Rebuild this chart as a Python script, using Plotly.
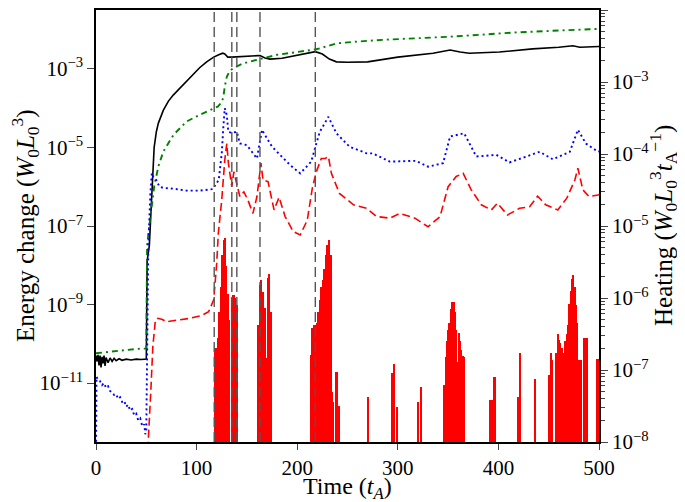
import plotly.graph_objects as go

# ---------------- data (log10 values) ----------------
black_t = [0, 1, 2, 3, 4, 5, 6, 7, 8, 9, 10, 12, 14, 16, 18, 20, 23, 26, 30, 35, 40, 45, 50,
           50.8, 53, 55.5, 57.8, 60, 62, 67, 72, 77, 85, 90, 97, 103, 110, 117, 122, 126, 128,
           131, 135, 145, 155, 163, 168, 173, 185, 200, 210, 218, 225, 232, 239, 250, 270, 300,
           335, 352, 362, 371, 401, 434, 460, 474, 481, 500]
black_v = [-10.30, -10.45, -10.28, -10.55, -10.30, -10.60, -10.33, -10.50, -10.30, -10.56, -10.35,
           -10.48, -10.36, -10.45, -10.37, -10.43, -10.38, -10.42, -10.39, -10.41, -10.39, -10.40, -10.39,
           -7.9, -7.5, -6.0, -5.0, -4.6, -4.38, -4.05, -3.82, -3.66, -3.45, -3.32, -3.12, -2.97, -2.82,
           -2.70, -2.64, -2.60, -2.62, -2.70, -2.70, -2.69, -2.68, -2.66, -2.72, -2.75, -2.73, -2.65,
           -2.61, -2.56, -2.62, -2.75, -2.82, -2.83, -2.82, -2.70, -2.60, -2.52, -2.57, -2.60, -2.57,
           -2.49, -2.45, -2.41, -2.45, -2.43]

green_t = [0, 10, 20, 30, 40, 50, 50.8, 53, 55.5, 57.8, 62, 67, 77, 90, 103, 110, 121, 124, 126.5,
           128, 130, 133, 136.5, 146, 160, 180, 200, 219, 230, 239, 262, 285, 352, 418, 490, 500]
green_v = [-10.24, -10.21, -10.18, -10.15, -10.13, -10.12, -7.5, -7.0, -6.5, -6.0, -5.48, -5.1, -4.68,
           -4.34, -4.17, -4.09, -3.96, -3.88, -3.74, -3.45, -3.2, -3.05, -2.98, -2.86, -2.77, -2.64,
           -2.57, -2.50, -2.42, -2.35, -2.30, -2.26, -2.18, -2.07, -1.99, -1.98]

blue_t = [0, 0.5, 2, 4, 6, 8, 10, 12, 14, 16, 18, 20, 22, 24, 26, 28, 30, 32, 34, 36, 38, 40, 42, 44,
          46, 48, 49, 50, 50.6, 52, 54, 55.5, 57, 60, 63, 67, 77, 90, 103, 116, 122, 125, 126.6, 128,
          130, 131.5, 135, 140, 143, 150, 160, 165, 170, 175, 183, 193, 203, 214, 219, 222.5, 231, 239,
          252, 269, 275, 292, 318, 330, 345, 352, 366, 378, 398, 411, 428, 441, 454, 471, 479, 487,
          499, 500]
blue_v = [-13.0, -10.84, -10.92, -10.95, -11.05, -11.0, -11.12, -11.08, -11.2, -11.24, -11.3, -11.28,
          -11.4, -11.36, -11.48, -11.45, -11.6, -11.55, -11.7, -11.66, -11.82, -11.78, -11.95, -11.9,
          -12.1, -12.05, -12.3, -12.2, -10.4, -7.5, -6.2, -5.65, -5.75, -5.83, -6.0, -6.03, -6.05,
          -6.1, -6.1, -6.06, -5.83, -5.15, -4.47, -4.0, -4.17, -4.6, -4.63, -4.6, -4.9, -4.94, -5.28,
          -4.55, -4.77, -4.98, -5.19, -5.45, -5.66, -5.36, -4.9, -4.6, -4.22, -4.64, -4.98, -5.15,
          -5.15, -5.36, -5.34, -5.49, -5.4, -4.72, -4.64, -5.23, -5.19, -5.38, -5.23, -5.11, -5.3,
          -5.11, -4.55, -4.9, -5.11, -5.1]

red_t = [51.5, 52.2, 54.5, 56.5, 59, 61.5, 66, 70, 80, 93.5, 105, 112, 117, 120, 121.6, 125, 128, 130,
         131.6, 135, 137, 140, 143, 147, 151, 156, 160, 164, 166, 171, 177, 182, 188, 196, 203, 210,
         215, 219, 224, 228, 231, 234, 242, 256, 269, 279, 292, 302, 317, 330, 342, 350, 358, 365,
         373, 383, 393, 399, 409, 421, 431, 439, 447, 459, 468, 476, 479, 484, 490, 499, 500]
red_v = [-13.0, -12.33, -11.2, -10.07, -9.4, -9.35, -9.38, -9.44, -9.4, -9.35, -9.28, -9.18, -8.88,
         -7.95, -7.18, -6.34, -5.32, -4.9, -5.4, -6.0, -5.62, -5.96, -6.25, -6.13, -6.34, -6.68, -6.25,
         -5.4, -5.83, -5.87, -6.59, -6.27, -6.76, -7.14, -7.23, -6.85, -6.04, -5.62, -5.28, -5.28,
         -5.23, -5.66, -6.17, -6.46, -6.55, -6.76, -6.8, -6.68, -6.8, -7.02, -6.76, -6.0, -5.74,
         -5.66, -6.08, -6.46, -6.59, -6.42, -6.72, -6.55, -6.51, -6.24, -6.46, -6.59, -6.29, -5.83,
         -5.53, -6.08, -6.25, -6.21, -6.2]

heat_t = [118.5, 120, 121.5, 123, 124.5, 126, 127.3, 128.5, 129.8, 131, 132,
          135.5, 137, 138.5, 140,
          161.3, 162.9, 164.5, 166.1, 167.7, 169.3, 170.9, 172.5, 174,
          213.8, 215.3, 216.8, 218.3, 219.8, 221.3, 222.8, 224.3, 225.8, 227.3, 228.8, 230.3, 231.8,
          233.3, 234.8, 236.2, 238.5, 240, 241.3,
          270.5, 294.4, 296.8, 299.5, 320, 323.7,
          346.5, 347.8, 349.1, 350.4, 351.7, 353, 354.3, 355.6, 356.9, 358.2, 359.5, 360.8, 362.1,
          363.4, 364.7, 366,
          391.5, 394, 396.3, 419.6, 421.9, 437,
          450.9, 452.2, 453.5, 457.8, 459.1, 460.4, 461.7, 463, 464.3, 465.6, 466.9, 468.2, 469.5,
          470.8, 472.1, 473.4, 474.7, 476, 477.3, 478.6, 479.9, 481.2, 482.5,
          485.9, 487.3, 488.7, 498, 499.3]
heat_v = [-6.70, -6.70, -6.55, -6.19, -5.85, -5.40, -5.20, -5.17, -5.55, -5.95, -6.30,
          -6.00, -5.96, -6.00, -6.10,
          -6.38, -5.82, -5.75, -5.91, -6.14, -6.84, -5.72, -5.66, -6.20,
          -6.79, -6.42, -6.38, -6.37, -6.35, -6.20, -6.03, -5.85, -5.75, -5.60, -5.40, -5.26, -5.19,
          -5.40, -7.30, -7.44, -7.03, -7.03, -7.50,
          -7.38, -7.04, -6.92, -7.52, -7.45, -7.23,
          -7.21, -6.82, -6.60, -6.45, -6.35, -6.15, -6.06, -6.05, -6.20, -6.45, -6.89, -6.49, -6.60,
          -6.72, -6.81, -6.82,
          -7.41, -7.41, -7.10, -7.38, -6.77, -7.13,
          -7.07, -6.77, -6.86, -6.77, -6.50, -6.58, -6.63, -6.70, -6.76, -6.82, -6.60, -6.50, -6.38,
          -6.08, -5.90, -5.73, -5.68, -5.85, -6.10, -6.35, -6.86, -6.86, -6.86,
          -6.55, -6.55, -6.55, -6.85, -6.85]

event_times = [117.5, 135, 140, 163, 218]

left_exp = [-11, -9, -7, -5, -3]
right_exp = [-8, -7, -6, -5, -4, -3, -2]
x_ticks = [0, 100, 200, 300, 400, 500]

x_title = "Time (<i>t</i><sub><i>A</i></sub>)"
left_title = "Energy change (<i>W</i><sub>0</sub><i>L</i><sub>0</sub><sup>3</sup>)"
right_title = ("Heating (<i>W</i><sub>0</sub><i>L</i><sub>0</sub><sup>3</sup>"
               "<i>t</i><sub>A</sub><sup>\u22121</sup>)")


def pw(vals):
    return [10.0 ** v for v in vals]


def sup_label(e):
    return "10<sup>" + ("\u2212" + str(-e) if e < 0 else str(e)) + "</sup>"


FONT = "Liberation Serif"

fig = go.Figure()
fig.add_trace(go.Scatter(x=black_t, y=pw(black_v), mode="lines",
                         line=dict(color="black", width=1.6), showlegend=False))
fig.add_trace(go.Scatter(x=green_t, y=pw(green_v), mode="lines",
                         line=dict(color="green", width=1.9, dash="6px,4px,2px,4px"), showlegend=False))
fig.add_trace(go.Scatter(x=blue_t, y=pw(blue_v), mode="lines",
                         line=dict(color="blue", width=1.9, dash="2px,3px"), showlegend=False))
fig.add_trace(go.Scatter(x=red_t, y=pw(red_v), mode="lines",
                         line=dict(color="red", width=1.6, dash="8px,4px"), showlegend=False))
fig.add_trace(go.Bar(x=heat_t, y=pw(heat_v), width=1.65, yaxis="y2",
                     marker=dict(color="red", line=dict(width=0)), showlegend=False))

for t in event_times:
    fig.add_shape(type="line", xref="x", yref="paper", x0=t, x1=t, y0=0, y1=1,
                  line=dict(color="#555555", width=1.4, dash="10px,5px"), layer="above")

minor_right = []
for e in right_exp[:-1]:
    for m in range(2, 10):
        minor_right.append(m * 10.0 ** e)

fig.add_annotation(text=left_title, xref="paper", yref="paper", x=0, y=0.5, xshift=-71,
                   textangle=-90, showarrow=False, xanchor="center", yanchor="middle",
                   font=dict(size=25, family=FONT))
fig.add_annotation(text=right_title, xref="paper", yref="paper", x=1, y=0.5, xshift=64,
                   textangle=-90, showarrow=False, xanchor="center", yanchor="middle",
                   font=dict(size=25, family=FONT))
fig.add_annotation(text=x_title, xref="paper", yref="paper", x=0.5, y=0, yshift=-46,
                   showarrow=False, xanchor="center", yanchor="middle",
                   font=dict(size=24, family=FONT))

# the page body adds an 8px margin, so the figure is drawn 8px smaller and margins shifted
fig.update_layout(
    width=677, height=494,
    margin=dict(l=88, r=86, t=2, b=60, autoexpand=False),
    paper_bgcolor="white", plot_bgcolor="white",
    font=dict(family=FONT, color="black", size=21),
    bargap=0,
    xaxis=dict(range=[0, 500], tickvals=x_ticks, ticks="outside", ticklen=6, tickwidth=1.2,
               showline=True, linecolor="black", linewidth=1.5, mirror=True, automargin=False,
               showgrid=False, zeroline=False, tickfont=dict(size=21)),
    yaxis=dict(type="log", range=[-12.5, -1.5], tickvals=pw(left_exp),
               ticktext=[sup_label(e) for e in left_exp], ticks="outside", ticklen=7, tickwidth=1.2,
               showline=True, linecolor="black", linewidth=1.5, showgrid=False, zeroline=False,
               automargin=False, tickfont=dict(size=21)),
    yaxis2=dict(type="log", range=[-8, -2], overlaying="y", side="right",
                tickvals=pw(right_exp), ticktext=[sup_label(e) for e in right_exp],
                ticks="outside", ticklen=7, tickwidth=1.2,
                minor=dict(tickvals=minor_right, ticks="outside", ticklen=4, tickwidth=1),
                showline=True, linecolor="black", linewidth=1.5, showgrid=False, zeroline=False,
                automargin=False, tickfont=dict(size=21)),
)

fig.write_html("out.html")
